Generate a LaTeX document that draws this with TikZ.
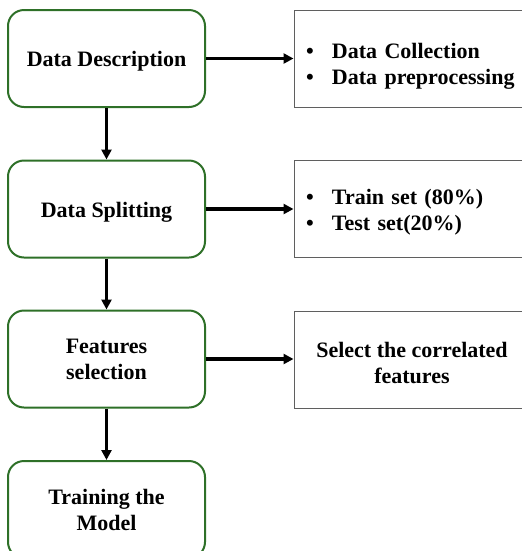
\documentclass[tikz,border=0pt]{standalone}
\usepackage{fontspec}
\setmainfont{Liberation Serif}
\usetikzlibrary{arrows.meta}
\definecolor{vertboite}{RGB}{46,112,40}
\definecolor{grisboite}{RGB}{95,95,95}
\begin{document}
\begin{tikzpicture}[x=0.75pt,y=-0.75pt,
    etape/.style={draw=vertboite, line width=1.5pt, rounded corners=12pt,
      minimum width=147.75pt, minimum height=72.75pt, align=center,
      font=\bfseries\fontsize{16.5}{19.5}\selectfont,
      execute at begin node={\rule{0pt}{16pt}}},
    detail/.style={draw=grisboite, line width=0.75pt,
      minimum width=177pt, minimum height=72.75pt,
      font=\bfseries\fontsize{16.5}{19.5}\selectfont},
    fleche/.style={line width=2.5pt, -{Triangle[length=7.5pt,width=7.5pt]}}]
    % Cadre de l'image
    \useasboundingbox (0,0) rectangle (522,551);

    % Etapes (boites vertes)
    \node[etape] (G1) at (106.5,58.5) {Data Description};
    \node[etape] (G2) at (106.5,209) {Data Splitting};
    \node[etape] (G3) at (106.5,359) {Features\\selection};
    \node[etape] (G4) at (106.5,509.5) {Training the\\Model};

    % Details (boites grises, coupees a droite)
    \node[detail, text width=159pt, inner xsep=9pt, align=left] (D1) at (412,58.5)
      {\rule{0pt}{23.5pt}\makebox[19.5pt][l]{•}Data Collection\\\makebox[19.5pt][l]{•}Data preprocessing};
    \node[detail, text width=159pt, inner xsep=9pt, align=left] (D2) at (412,209)
      {\rule{0pt}{16pt}\makebox[19.5pt][l]{•}Train set (80\%)\\\makebox[19.5pt][l]{•}Test set(20\%)};
    \node[detail, align=center] (D3) at (412,360) {\rule{0pt}{16pt}Select the correlated\\features};

    % Fleches verticales
    \draw[fleche] (G1) -- (G2);
    \draw[fleche] (G2) -- (G3);
    \draw[fleche] (G3) -- (G4);

    % Fleches horizontales
    \draw[fleche] (G1.east) -- (D1.west |- G1.east);
    \draw[fleche] (G2.east) -- (D2.west |- G2.east);
    \draw[fleche] (G3.east) -- (D3.west |- G3.east);
\end{tikzpicture}
\end{document}
